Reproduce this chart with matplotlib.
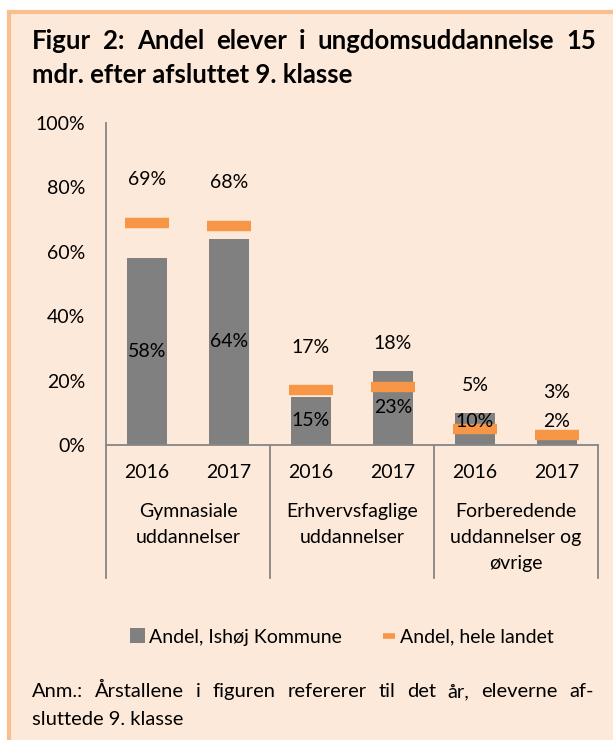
import matplotlib
matplotlib.use('Agg')
import matplotlib.pyplot as plt
from matplotlib.patches import Rectangle, Patch
from matplotlib.lines import Line2D
from matplotlib.transforms import blended_transform_factory
import numpy as np

# Data
groups = ['Gymnasiale\nuddannelser', 'Erhvervsfaglige\nuddannelser', 'Forberedende\nuddannelser og\nøvrige']
years = ['2016', '2017', '2016', '2017', '2016', '2017']
ishoj = [58, 64, 15, 23, 10, 2]
landet = [69, 68, 17, 18, 5, 3]
yticks = [0, 20, 40, 60, 80, 100]

title_lines = ['Figur 2: Andel elever i ungdomsuddannelse 15', 'mdr. efter afsluttet 9. klasse']
note_lines = ['Anm.: Årstallene i figuren refererer til det år, eleverne af-', 'sluttede 9. klasse']

gray = '#808080'
orange = '#F79646'
peach = '#FDE9D9'
border = '#FABF8F'
axcol = '#868686'

plt.rcParams['font.family'] = ['Lato', 'DejaVu Sans']
plt.rcParams['font.size'] = 14

W, H = 613, 740
fig = plt.figure(figsize=(W / 100, H / 100), dpi=100, facecolor='white')

# peach box with orange border (top and left visible)
fig.patches.append(Rectangle((9 / W, -0.05), 1.1, (H - 12) / H + 0.05, transform=fig.transFigure,
                             facecolor=peach, edgecolor=border, linewidth=3, zorder=-5))

ax = fig.add_axes([106 / W, (H - 445) / H, (598 - 106) / W, (445 - 123) / H])
ax.set_facecolor('none')
ax.set_zorder(2)

x = np.arange(len(ishoj))
bars = ax.bar(x, ishoj, width=0.49, color=gray, zorder=2)
ax.plot(x, landet, linestyle='none', marker='_', markersize=31, markeredgewidth=7.5,
        color=orange, zorder=3)

# data labels
for xi, v in zip(x, ishoj):
    ax.text(xi, max(v / 2, 7.4), f'{v}%', ha='center', va='center', zorder=4)
for xi, v in zip(x, landet):
    ax.annotate(f'{v}%', (xi, v), xytext=(0, 31), textcoords='offset points',
                ha='center', va='center', zorder=4)

ax.set_xlim(-0.5, len(ishoj) - 0.5)
ax.set_ylim(0, 100)
ax.set_yticks(yticks)
ax.set_yticklabels([f'{t}%' for t in yticks])
ax.set_xticks(x)
ax.set_xticklabels(years)
ax.tick_params(axis='y', length=0, pad=15, labelsize=14)
ax.tick_params(axis='x', length=0, pad=14, labelsize=14)
for s in ['top', 'right']:
    ax.spines[s].set_visible(False)
for s in ['left', 'bottom']:
    ax.spines[s].set_color(axcol)
    ax.spines[s].set_linewidth(1.3)

# group separators and group labels below the axis
trans = blended_transform_factory(ax.transData, ax.transAxes)
for b in np.arange(-0.5, len(ishoj), 2):
    ax.add_line(Line2D([b, b], [0, -133 / 322], transform=trans, color=axcol,
                       linewidth=1.3, clip_on=False))
for i, g in enumerate(groups):
    ax.text(2 * i + 0.5, -58 / 322, g, transform=trans, ha='center', va='top',
            linespacing=1.65)

# legend
handles = [Patch(facecolor=gray),
           Line2D([0], [0], linestyle='none', marker='_', markersize=8,
                  markeredgewidth=4, color=orange)]
fig.legend(handles, ['Andel, Ishøj Kommune', 'Andel, hele landet'], loc='center',
           bbox_to_anchor=(342 / W, 1 - 637 / H), ncol=2, frameon=False, fontsize=14,
           handlelength=0.8, handleheight=0.8, handletextpad=0.2, columnspacing=2.0)


def justify(text, x0, x1, y, **kw):
    renderer = fig.canvas.get_renderer()
    words = text.split()
    widths = []
    for w in words:
        t = fig.text(0, 0, w, **kw)
        widths.append(t.get_window_extent(renderer).width)
        t.remove()
    gap = (x1 - x0 - sum(widths)) / (len(words) - 1)
    xp = x0
    for w, wd in zip(words, widths):
        fig.text(xp / W, 1 - y / H, w, va='baseline', ha='left', **kw)
        xp += wd + gap


justify(title_lines[0], 32, 596, 49, fontsize=18.5, fontweight='bold')
fig.text(32 / W, 1 - 83 / H, title_lines[1], va='baseline', fontsize=18.5, fontweight='bold')
justify(note_lines[0], 32, 594, 697, fontsize=14.5)
fig.text(32 / W, 1 - 725 / H, note_lines[1], va='baseline', fontsize=14.5)

fig.savefig('out.png', dpi=100, facecolor=fig.get_facecolor())
